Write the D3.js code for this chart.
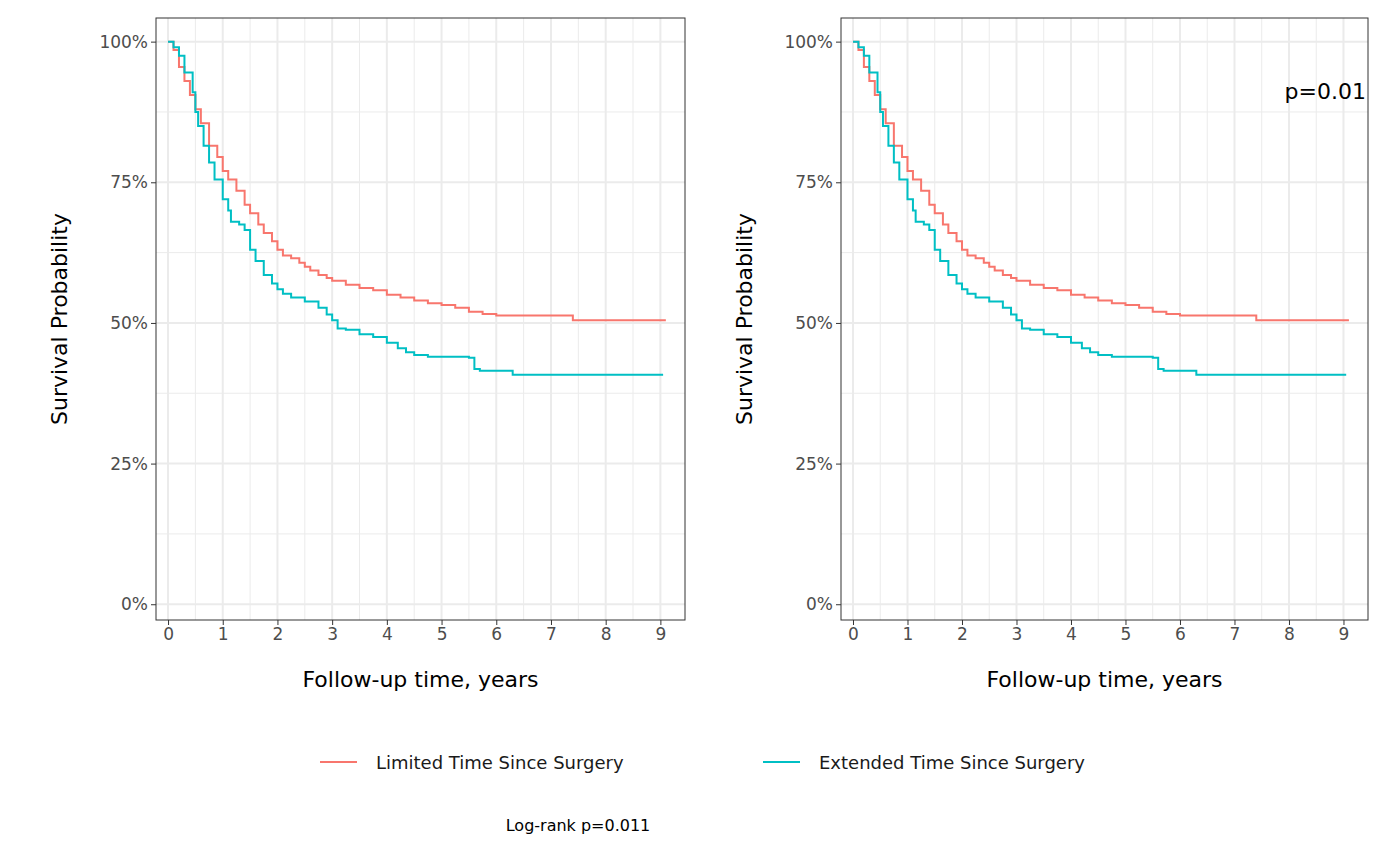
<!DOCTYPE html><html><head><script src="https://d3js.org/d3.v7.min.js"></script>
<style>body{margin:0;background:#fff}</style></head><body><svg id="c" width="1400" height="865"></svg>
<script>
const limitedT=[0,0.1,0.2,0.3,0.4,0.5,0.6,0.75,0.9,1,1.1,1.25,1.4,1.5,1.65,1.75,1.9,2,2.1,2.25,2.4,2.5,2.6,2.75,2.9,3,3.25,3.5,3.75,4,4.25,4.5,4.75,5,5.25,5.5,5.75,6,7.4,9.1];
const limitedS=[1,0.985,0.955,0.93,0.905,0.88,0.855,0.815,0.795,0.77,0.755,0.735,0.71,0.695,0.675,0.66,0.645,0.63,0.62,0.615,0.607,0.6,0.593,0.585,0.58,0.575,0.568,0.562,0.558,0.55,0.545,0.54,0.535,0.532,0.527,0.52,0.516,0.513,0.505,0.505];
const extendedT=[0,0.1,0.2,0.3,0.45,0.5,0.55,0.65,0.75,0.85,1,1.1,1.15,1.3,1.4,1.5,1.6,1.75,1.9,2,2.1,2.25,2.5,2.75,2.9,3,3.1,3.25,3.5,3.75,4,4.2,4.35,4.5,4.75,5.5,5.6,5.7,6.3,9.05];
const extendedS=[1,0.99,0.975,0.945,0.91,0.875,0.85,0.815,0.785,0.755,0.72,0.7,0.68,0.675,0.665,0.63,0.61,0.585,0.57,0.56,0.552,0.545,0.538,0.527,0.515,0.505,0.49,0.488,0.48,0.475,0.465,0.455,0.448,0.443,0.44,0.438,0.418,0.415,0.408,0.408];
const xTicks=[0,1,2,3,4,5,6,7,8,9];
const yTicks=[0,0.25,0.5,0.75,1];
const legendLabels=["Limited Time Since Surgery","Extended Time Since Surgery"];
const colors=["#F8766D","#00BFC4"];
const svg=d3.select("#c");
const panels=[{x0:156,x1:685,showP:false},{x0:841,x1:1368,showP:true}];
const pTop=18,pBot=620;
panels.forEach(p=>{
  const x=d3.scaleLinear().domain([-0.22,9.45]).range([p.x0,p.x1]);
  const y=d3.scaleLinear().domain([-0.028,1.042]).range([pBot,pTop]);
  const g=svg.append("g");
  g.append("rect").attr("x",p.x0).attr("y",pTop).attr("width",p.x1-p.x0).attr("height",pBot-pTop).attr("fill","#fff");
  d3.range(0.5,9.5,1).forEach(v=>g.append("line").attr("x1",x(v)).attr("x2",x(v)).attr("y1",pTop).attr("y2",pBot).attr("stroke","#ebebeb").attr("stroke-width",1));
  [0.125,0.375,0.625,0.875].forEach(v=>g.append("line").attr("y1",y(v)).attr("y2",y(v)).attr("x1",p.x0).attr("x2",p.x1).attr("stroke","#ebebeb").attr("stroke-width",1));
  xTicks.forEach(v=>g.append("line").attr("x1",x(v)).attr("x2",x(v)).attr("y1",pTop).attr("y2",pBot).attr("stroke","#ebebeb").attr("stroke-width",2));
  yTicks.forEach(v=>g.append("line").attr("y1",y(v)).attr("y2",y(v)).attr("x1",p.x0).attr("x2",p.x1).attr("stroke","#ebebeb").attr("stroke-width",2));
  [[limitedT,limitedS],[extendedT,extendedS]].forEach((s,i)=>{
    const d=s[0].map((t,k)=>[t,s[1][k]]);
    g.append("path").datum(d).attr("fill","none").attr("stroke",colors[i]).attr("stroke-width",2)
      .attr("d",d3.line().x(d=>x(d[0])).y(d=>y(d[1])).curve(d3.curveStepAfter));
  });
  g.append("rect").attr("x",p.x0).attr("y",pTop).attr("width",p.x1-p.x0).attr("height",pBot-pTop).attr("fill","none").attr("stroke","#333").attr("stroke-width",1);
  const ax=g.append("g").attr("transform",`translate(0,${pBot})`).call(d3.axisBottom(x).tickValues(xTicks).tickSize(5).tickPadding(3));
  const ay=g.append("g").attr("transform",`translate(${p.x0},0)`).call(d3.axisLeft(y).tickValues(yTicks).tickFormat(d3.format(".0%")).tickSize(5).tickPadding(3));
  [ax,ay].forEach(a=>{a.select(".domain").remove();a.selectAll("line").attr("stroke","#333");a.selectAll("text").attr("fill","#4d4d4d").style("font-family","DejaVu Sans").style("font-size","17px");});
  g.append("text").attr("x",(p.x0+p.x1)/2).attr("y",687).attr("text-anchor","middle").style("font-family","DejaVu Sans").style("font-size","22px").text("Follow-up time, years");
  g.append("text").attr("transform",`translate(${p.x0-104},${(pTop+pBot)/2}) rotate(-90)`).attr("text-anchor","middle").attr("dy","0.7em").style("font-family","DejaVu Sans").style("font-size","22px").text("Survival Probability");
  if(p.showP) g.append("text").attr("x",p.x1-2).attr("y",99).attr("text-anchor","end").style("font-family","DejaVu Sans").style("font-size","22px").text("p=0.01");
});
const lg=svg.append("g");
const lx=[320,763];
legendLabels.forEach((l,i)=>{
  lg.append("line").attr("x1",lx[i]).attr("x2",lx[i]+37).attr("y1",762).attr("y2",762).attr("stroke",colors[i]).attr("stroke-width",2);
  lg.append("text").attr("x",lx[i]+56).attr("y",769).style("font-family","DejaVu Sans").style("font-size","18px").attr("fill","#1a1a1a").text(l);
});
svg.append("text").attr("x",578).attr("y",831).attr("text-anchor","middle").style("font-family","DejaVu Sans").style("font-size","16px").text("Log-rank p=0.011");
</script></body></html>
